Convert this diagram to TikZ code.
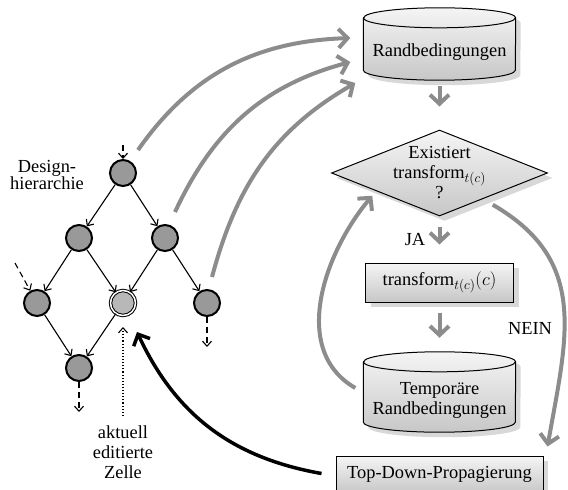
\documentclass[tikz,border=0pt]{standalone}
\usepackage{fix-cm}
\usepackage[no-math]{fontspec}
\setmainfont{Liberation Serif}
\usetikzlibrary{arrows.meta,shapes.geometric,shadows,backgrounds}

\newcommand\tcsub{\ensuremath{_{\mbox{\fontsize{13.5}{14}\selectfont$t(c)$}}}}
% Trommel um einen Knoten
\newcommand\drum[1]{%
  \path[box] ([yshift=6pt]#1.north west) -- ([yshift=10pt]#1.south west)
    arc[start angle=180, end angle=360, x radius=76pt, y radius=10pt]
    -- ([yshift=6pt]#1.north east)
    arc[start angle=0, end angle=180, x radius=76pt, y radius=10pt] -- cycle;
  \draw[line width=1pt] ([yshift=6pt]#1.north west)
    arc[start angle=180, end angle=360, x radius=76pt, y radius=10pt];}

\begin{document}
\begin{tikzpicture}[
  x=1pt, y=1pt,
  font=\fontsize{18.4}{20}\selectfont,
  cell/.style={circle, draw, line width=2pt, fill=black!40, minimum size=26pt, inner sep=0pt},
  editcell/.style={cell, fill=black!28, line width=1pt, double=white, double distance=1.5pt, minimum size=25pt},
  tree/.style={-{Straight Barb[length=5pt,width=9pt]}, line width=1.1pt},
  loose/.style={tree, dash pattern=on 6pt off 4pt},
  box/.style={draw, line width=1pt, top color=black!4, bottom color=black!22,
    drop shadow={shadow xshift=5pt, shadow yshift=-5pt, fill=black!30}},
  proc/.style={box, rectangle, inner sep=0pt},
  store/.style={rectangle, minimum width=152pt, inner sep=0pt, align=center},
  decision/.style={box, diamond, minimum width=216pt, minimum height=86pt, inner sep=0pt},
  flow/.style={-{Straight Barb[length=9pt,width=19pt]}, line width=4pt, black!45},
  back/.style={-{Straight Barb[length=9pt,width=18pt]}, line width=3.5pt}
]
\useasboundingbox (0,0) rectangle (568,-490);

% Ablauf rechts
\node[store, minimum height=56pt] (rb) at (439.5,-52) {Randbedingungen};
\node[decision, label={[align=center]center:Existiert\\transform\tcsub\\?}] (exist) at (439.5,-173) {};
\node[proc, minimum width=148pt, minimum height=39pt] (tf) at (439.5,-282.5) {transform\tcsub$(c)$};
\node[store, minimum height=64pt] (temp) at (439.5,-400) {Temporäre\\Randbedingungen};
\node[proc, minimum width=207pt, minimum height=37pt] (td) at (439.5,-474.5) {Top-Down-Propagierung};
\node (ja) at (415,-240) {JA};
\node (nein) at (530,-328) {NEIN};

\begin{scope}[on background layer]
\drum{rb}
\drum{temp}
\end{scope}

\draw[flow, shorten <=6pt, shorten >=23pt] (rb) -- (exist);
\draw[flow, shorten <=10pt, shorten >=18pt] (exist) -- (tf);
\draw[flow, shorten <=10pt, shorten >=30pt] (tf) -- (temp);
\draw[flow] (temp.west) ++(-8,12) to[out=150,in=230] ([shift={(-13,-1)}]exist.south west);
\draw[flow] (exist.south east) ++(-1,-10) to[out=-30,in=80,looseness=1.15] ([shift={(4,9)}]td.north east);

% Designhierarchie
\node[cell] (n1) at (123,-173) {};
\node[cell] (n2l) at (79,-238) {};
\node[cell] (n2r) at (165,-238) {};
\node[cell] (n3l) at (37,-303) {};
\node[editcell] (n3m) at (123,-303) {};
\node[cell] (n3r) at (207,-303) {};
\node[cell] (n4) at (79,-368) {};
\node[align=center, font=\fontsize{18.4}{16}\selectfont] (dh) at (47,-175) {Design-\\hierarchie};
\node[align=center] (lbl) at (123,-452) {aktuell\\editierte\\Zelle};

\draw[tree] (n1) -- (n2l);
\draw[tree] (n1) -- (n2r);
\draw[tree] (n2l) -- (n3l);
\draw[tree] (n2l) -- (n3m);
\draw[tree] (n2r) -- (n3m);
\draw[tree] (n2r) -- (n3r);
\draw[tree] (n3l) -- (n4);
\draw[tree] (n3m) -- (n4);
\draw[loose] ([yshift=28]n1.center) -- (n1);
\draw[loose] ([shift={(-22,40)}]n3l.center) -- (n3l);
\draw[loose] (n3r) -- ++(0,-44);
\draw[loose] (n4) -- ++(0,-44);
\draw[tree, dotted, shorten <=6pt, shorten >=11pt] (lbl) -- (n3m);

% Verbindungen
\draw[flow] (n1) ++(15,23) to[out=55,in=182] ([shift={(-13,14)}]rb.west);
\draw[flow] (n2r) ++(10,26) to[out=65,in=195] ([shift={(-13,-10)}]rb.west);
\draw[flow] (n3r) ++(5,26) to[out=75,in=210] ([shift={(-8,-31)}]rb.west);
\draw[back] (td.west) ++(-14,1) to[out=170,in=-65] ([shift={(14,-29)}]n3m.center);
\end{tikzpicture}
\end{document}
